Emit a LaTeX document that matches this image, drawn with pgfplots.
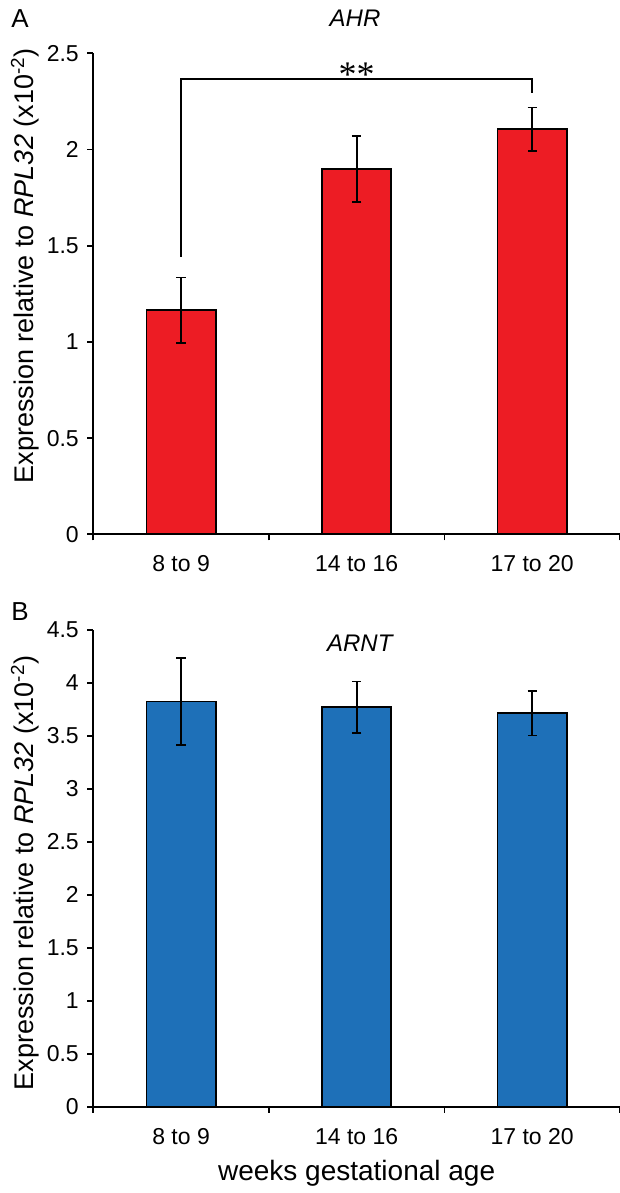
\documentclass[border=0pt]{standalone}
\usepackage{fontspec}
\setmainfont{Liberation Sans}
\newfontfamily\seriffont{Liberation Serif}
\usepackage{pgfplots}
\pgfplotsset{compat=1.18}
\usepackage{pgfplotstable}
\definecolor{barred}{RGB}{237,28,36}
\definecolor{barblue}{RGB}{30,112,184}

\pgfplotstableread{
x y err
0 1.165 0.170
1 1.897 0.172
2 2.105 0.113
}\ahr
\pgfplotstableread{
x y err
0 3.825 0.410
1 3.770 0.243
2 3.714 0.210
}\arnt

\pgfplotsset{
 panel/.style={
  scale only axis, width=526.7pt,
  xmin=-0.5, xmax=2.5,
  axis x line*=bottom, axis y line*=left,
  axis line style={line width=1.7pt, black},
  xtick={-0.5,0.5,1.5,2.5},
  x tick label as interval,
  xticklabels={8 to 9, 14 to 16, 17 to 20},
  tick align=outside,
  major tick length=6pt,
  every tick/.style={black, line width=1.7pt},
  ymin=0,
  ticklabel style={font=\fontsize{23}{27}\selectfont},
  xticklabel style={yshift=-12pt},
  yticklabel style={xshift=-5pt},
  /pgf/number format/assume math mode=true,
  ylabel={Expression relative to \textit{RPL32} (x10\textsuperscript{-2})},
  ylabel style={font=\fontsize{27}{31}\selectfont, anchor=center},
  ybar, bar width=0.395,
  clip=false,
 },
 bars/.style={bar shift=0pt, draw=black, line width=1.7pt,
  error bars/.cd, y dir=both, y explicit,
  error bar style={line width=1.8pt, black},
  error mark options={rotate=90, mark size=4.7pt, line width=1.8pt, black}},
}

\begin{document}
\begin{tikzpicture}
\useasboundingbox (0pt,0pt) rectangle (620pt,1193pt);

% Panel A
\begin{axis}[panel, at={(93.3pt,658.7pt)}, anchor=south west, height=481pt,
  ymax=2.5, ytick={0,0.5,1,1.5,2,2.5},
  ylabel style={at={(axis description cs:-0.13,0.558)}}]
\addplot[fill=barred, bars] table[x=x,y=y,y error=err]{\ahr};
\addplot[sharp plot, black, line width=1.7pt, mark=none]
  coordinates {(0,1.443) (0,2.365) (2,2.365) (2,2.292)};
\node[anchor=base, inner sep=0pt, font=\seriffont\fontsize{36}{36}\selectfont]
  at (axis cs:1,2.325) {**};
\node[font=\itshape\fontsize{24}{28}\selectfont] at (axis description cs:0.497,1.073) {AHR};
\node[font=\fontsize{26}{30}\selectfont] at (axis description cs:-0.139,1.073) {A};
\end{axis}

% Panel B
\begin{axis}[panel, at={(93.3pt,86.3pt)}, anchor=south west, height=476.7pt,
  ymax=4.5, ytick={0,0.5,1,1.5,2,2.5,3,3.5,4,4.5},
  ylabel style={at={(axis description cs:-0.13,0.49)}}]
\addplot[fill=barblue, bars] table[x=x,y=y,y error=err]{\arnt};
\node[font=\itshape\fontsize{24}{28}\selectfont] at (axis description cs:0.506,0.973) {ARNT};
\node[font=\fontsize{26}{30}\selectfont] at (axis description cs:-0.139,1.038) {B};
\node[anchor=base, font=\fontsize{28}{32}\selectfont] at (axis description cs:0.5,-0.154) {weeks gestational age};
\end{axis}
\end{tikzpicture}
\end{document}
